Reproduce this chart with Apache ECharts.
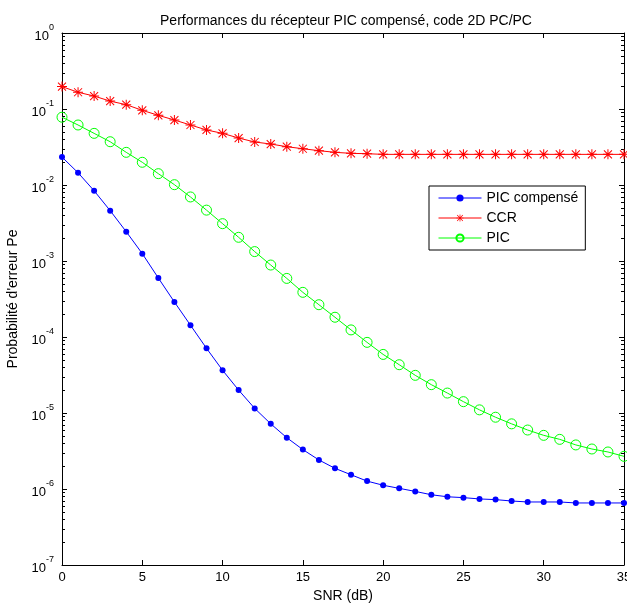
<!DOCTYPE html>
<html>
<head>
<meta charset="utf-8">
<script src="https://cdn.jsdelivr.net/npm/echarts@6/dist/echarts.min.js"></script>
<style>html,body{margin:0;padding:0;background:#fff;width:100%;height:100%;overflow:hidden;}#c{position:absolute;left:0;top:0;width:627px;height:606px;}</style>
</head>
<body>
<div id="c"></div>
<script>
const snr = [0,1,2,3,4,5,6,7,8,9,10,11,12,13,14,15,16,17,18,19,20,21,22,23,24,25,26,27,28,29,30,31,32,33,34,35];
const picCompense = [2.33e-2,1.45e-2,8.4e-3,4.6e-3,2.43e-3,1.25e-3,5.97e-4,2.89e-4,1.43e-4,7.1e-5,3.65e-5,2.0e-5,1.15e-5,7.2e-6,4.73e-6,3.3e-6,2.41e-6,1.87e-6,1.54e-6,1.27e-6,1.12e-6,1.02e-6,9.3e-7,8.4e-7,7.9e-7,7.7e-7,7.4e-7,7.25e-7,6.95e-7,6.75e-7,6.75e-7,6.75e-7,6.55e-7,6.55e-7,6.55e-7,6.55e-7];
const ccr = [0.197,0.166,0.148,0.127,0.114,0.096,0.0826,0.0716,0.0616,0.053,0.0478,0.0415,0.0368,0.0346,0.0319,0.030,0.0283,0.0269,0.0261,0.0258,0.0253,0.0253,0.0253,0.0253,0.0253,0.0253,0.0253,0.0253,0.0253,0.0253,0.0253,0.0253,0.0253,0.0253,0.0253,0.0253];
const pic = [7.8e-2,6.16e-2,4.78e-2,3.71e-2,2.69e-2,1.99e-2,1.41e-2,1.01e-2,6.96e-3,4.67e-3,3.1e-3,2.05e-3,1.33e-3,8.85e-4,5.9e-4,3.87e-4,2.66e-4,1.82e-4,1.24e-4,8.5e-5,5.9e-5,4.32e-5,3.13e-5,2.36e-5,1.83e-5,1.41e-5,1.1e-5,8.8e-6,7.2e-6,5.97e-6,5.08e-6,4.5e-6,3.8e-6,3.36e-6,3.07e-6,2.69e-6];
const seriesNames = ['PIC compensé','CCR','PIC'];
const xTicks = [0,5,10,15,20,25,30,35];
const decades = [-7,-6,-5,-4,-3,-2,-1];
const minorMult = [2,3,4,5,6,7,8,9];

const FONT = 'Liberation Sans, Arial, Helvetica, sans-serif';
const minorVals = [];
decades.forEach(d => minorMult.forEach(m => minorVals.push([0, m * Math.pow(10, d)])));

const starPath = 'path://M9 0H11V20H9Z M0 9H20V11H0Z M1.3 2.7L2.7 1.3L18.7 17.3L17.3 18.7Z M17.3 1.3L18.7 2.7L2.7 18.7L1.3 17.3Z';

const chart = echarts.init(document.getElementById('c'), null, {renderer:'canvas', width: 627, height: 606});
const axisCommon = {
  axisLine: {show:true, onZero:false, lineStyle:{color:'#000', width:1}},
  axisTick: {show:true, inside:true, length:5, lineStyle:{color:'#000'}},
  splitLine: {show:false}
};
chart.setOption({
  animation: false,
  backgroundColor: '#fff',
  title: {
    text: 'Performances du récepteur PIC compensé, code 2D PC/PC',
    left: 341, top: 9, textAlign: 'center',
    textStyle: {fontFamily: FONT, fontSize: 14, fontWeight: 'normal', color: '#000'}
  },
  grid: {left: 62, right: 3, top: 33, bottom: 41, containLabel: false, outerBoundsMode: 'none'},
  legend: {
    data: seriesNames,
    orient: 'vertical', left: 429, top: 186,
    itemWidth: 43, itemHeight: 9, itemGap: 6,
    padding: [5, 7, 5, 9],
    lineStyle: {width: 1},
    borderColor: '#000', borderWidth: 1, borderRadius: 0, backgroundColor: '#fff',
    textStyle: {fontFamily: FONT, fontSize: 14, color: '#000'}
  },
  xAxis: [
    Object.assign({}, axisCommon, {
      type: 'value', min: xTicks[0], max: xTicks[xTicks.length-1], interval: 5, position: 'bottom',
      axisLabel: {color:'#000', fontFamily: FONT, fontSize: 13, margin: 6},
      name: 'SNR (dB)', nameLocation: 'middle', nameGap: 16,
      nameTextStyle: {fontFamily: FONT, fontSize: 14, color: '#000'}
    }),
    Object.assign({}, axisCommon, {
      type: 'value', min: xTicks[0], max: xTicks[xTicks.length-1], interval: 5, position: 'top',
      axisLabel: {show: false}
    })
  ],
  yAxis: [
    Object.assign({}, axisCommon, {
      type: 'log', logBase: 10, min: 1e-7, max: 1, interval: 1, position: 'left',
      axisLabel: {
        color: '#000', fontFamily: FONT, fontSize: 13, margin: 8,
        formatter: function (v) {
          const e = Math.round(Math.log10(v));
          return '{b|10}{s|' + e + '}';
        },
        rich: {
          b: {fontFamily: FONT, fontSize: 13, color: '#000', verticalAlign: 'bottom', lineHeight: 20},
          s: {fontFamily: FONT, fontSize: 9, color: '#000', verticalAlign: 'top', lineHeight: 20}
        }
      },
      name: 'Probabilité d\'erreur Pe', nameLocation: 'middle', nameGap: 37,
      nameTextStyle: {fontFamily: FONT, fontSize: 14, color: '#000'}
    }),
    Object.assign({}, axisCommon, {
      type: 'log', logBase: 10, min: 1e-7, max: 1, interval: 1, position: 'right',
      axisLabel: {show: false}
    })
  ],
  series: [
    {
      name: seriesNames[0], type: 'line', xAxisIndex: 0, yAxisIndex: 0,
      data: snr.map((x, i) => [x, picCompense[i]]),
      symbol: 'circle', symbolSize: 6, showAllSymbol: true,
      itemStyle: {color: '#0000ff'}, lineStyle: {color: '#0000ff', width: 1}
    },
    {
      name: seriesNames[1], type: 'line', xAxisIndex: 0, yAxisIndex: 0,
      data: snr.map((x, i) => [x, ccr[i]]),
      symbol: starPath, symbolSize: 10, showAllSymbol: true,
      itemStyle: {color: '#ff0000'}, lineStyle: {color: '#ff0000', width: 1}
    },
    {
      name: seriesNames[2], type: 'line', xAxisIndex: 0, yAxisIndex: 0,
      data: snr.map((x, i) => [x, pic[i]]),
      symbol: 'circle', symbolSize: 10, showAllSymbol: true,
      itemStyle: {color: 'rgba(0,0,0,0)', borderColor: '#00ff00', borderWidth: 1},
      lineStyle: {color: '#00ff00', width: 1}
    },
    {
      name: 'minorTicks', type: 'custom', xAxisIndex: 0, yAxisIndex: 0, silent: true,
      data: minorVals,
      renderItem: function (params, api) {
        const p = api.coord([api.value(0), api.value(1)]);
        const cs = params.coordSys;
        const y = Math.round(p[1]) + 0.5;
        const L = 3;
        return {type: 'group', children: [
          {type: 'line', shape: {x1: cs.x, y1: y, x2: cs.x + L, y2: y}, style: {stroke: '#000', lineWidth: 1}},
          {type: 'line', shape: {x1: cs.x + cs.width, y1: y, x2: cs.x + cs.width - L, y2: y}, style: {stroke: '#000', lineWidth: 1}}
        ]};
      }
    }
  ]
});
</script>
</body>
</html>
